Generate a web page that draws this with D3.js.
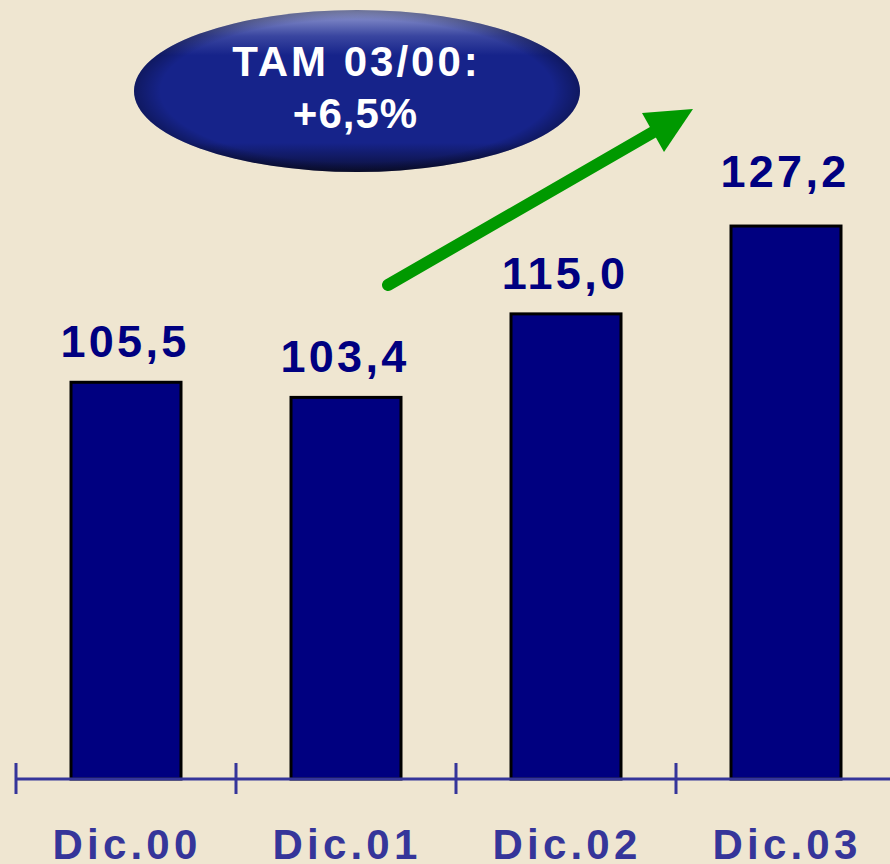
<!DOCTYPE html>
<html>
<head>
<meta charset="utf-8">
<script src="https://cdn.jsdelivr.net/npm/d3@7"></script>
<style>
  html, body { margin: 0; padding: 0; background: #efe6d1; }
  svg { display: block; }
  text { font-family: "Liberation Sans", Arial, sans-serif; font-weight: bold; }
</style>
</head>
<body>
<div id="chart"></div>
<script>
// chart data
const categories = ['Dic.00', 'Dic.01', 'Dic.02', 'Dic.03'];
const values = [105.5, 103.4, 115.0, 127.2];
const valueLabels = ['105,5', '103,4', '115,0', '127,2'];
const bubbleLines = ['TAM 03/00:', '+6,5%'];

const width = 890;
const height = 864;

const svg = d3.select('#chart')
    .append('svg')
    .attr('width', width)
    .attr('height', height);

svg.append('rect')
    .attr('width', width)
    .attr('height', height)
    .attr('fill', '#efe6d1');

// Scales
const x = d3.scaleBand()
    .domain(categories)
    .range([16, 896])
    .paddingInner(0.5)
    .paddingOuter(0.25);

const baseY = 779;
const y = d3.scaleLinear()
    .domain([50.4, 140.4])
    .range([baseY, 131]);

// Bars
svg.selectAll('.bar')
    .data(values)
    .enter()
    .append('rect')
    .attr('class', 'bar')
    .attr('x', (d, i) => x(categories[i]))
    .attr('y', (d) => y(d))
    .attr('width', x.bandwidth())
    .attr('height', (d) => baseY - y(d))
    .attr('fill', '#000080')
    .attr('stroke', '#000')
    .attr('stroke-width', 3);

// Value labels (the last one sits a little higher, as in the original)
svg.selectAll('.val')
    .data(values)
    .enter()
    .append('text')
    .attr('class', 'val')
    .attr('x', (d, i) => x(categories[i]) + x.bandwidth() / 2 - 1)
    .attr('y', (d, i) => y(d) - (i === values.length - 1 ? 39 : 25))
    .attr('text-anchor', 'middle')
    .attr('font-size', 45)
    .attr('letter-spacing', 3.3)
    .attr('fill', '#000080')
    .text((d, i) => valueLabels[i]);

// Axis: line with ticks between the categories
const axisColor = '#35359a';
svg.append('line')
    .attr('x1', 16).attr('x2', width)
    .attr('y1', baseY).attr('y2', baseY)
    .attr('stroke', axisColor)
    .attr('stroke-width', 3);

const tickXs = categories.map((c) => x(c) - x.step() * 0.25);
svg.selectAll('.tick')
    .data(tickXs)
    .enter()
    .append('line')
    .attr('x1', (d) => d).attr('x2', (d) => d)
    .attr('y1', baseY - 16).attr('y2', baseY + 15)
    .attr('stroke', axisColor)
    .attr('stroke-width', 3);

svg.selectAll('.cat')
    .data(categories)
    .enter()
    .append('text')
    .attr('class', 'cat')
    .attr('x', (d) => x(d) + x.bandwidth() / 2 + 1)
    .attr('y', 859)
    .attr('text-anchor', 'middle')
    .attr('font-size', 42)
    .attr('letter-spacing', 4.2)
    .attr('fill', axisColor)
    .text((d) => d);

// Green trend arrow
svg.append('line')
    .attr('x1', 388).attr('y1', 285)
    .attr('x2', 662).attr('y2', 127)
    .attr('stroke', '#009900')
    .attr('stroke-width', 12)
    .attr('stroke-linecap', 'round');

svg.append('path')
    .attr('d', 'M693,109 L642,113 L664,152 Z')
    .attr('fill', '#009900');

// TAM bubble
const defs = svg.append('defs');
const grad = defs.append('linearGradient')
    .attr('id', 'bubbleGrad')
    .attr('x1', 0).attr('y1', 0).attr('x2', 0).attr('y2', 1);
grad.append('stop').attr('offset', '0%').attr('stop-color', '#9aa2d6');
grad.append('stop').attr('offset', '16%').attr('stop-color', '#3a46a0');
grad.append('stop').attr('offset', '28%').attr('stop-color', '#16238a');
grad.append('stop').attr('offset', '82%').attr('stop-color', '#16238a');
grad.append('stop').attr('offset', '100%').attr('stop-color', '#0c1038');

const hgrad = defs.append('radialGradient')
    .attr('id', 'bubbleEdge')
    .attr('cx', 0.5).attr('cy', 0.5).attr('r', 0.5);
hgrad.append('stop').attr('offset', '88%').attr('stop-color', '#000').attr('stop-opacity', 0);
hgrad.append('stop').attr('offset', '100%').attr('stop-color', '#000').attr('stop-opacity', 0.3);

svg.append('ellipse')
    .attr('cx', 357).attr('cy', 91)
    .attr('rx', 223).attr('ry', 81)
    .attr('fill', 'url(#bubbleGrad)');
svg.append('ellipse')
    .attr('cx', 357).attr('cy', 91)
    .attr('rx', 223).attr('ry', 81)
    .attr('fill', 'url(#bubbleEdge)');

const bubbleSpacing = [3, 1];
svg.selectAll('.bubble')
    .data(bubbleLines)
    .enter()
    .append('text')
    .attr('class', 'bubble')
    .attr('x', (d, i) => 355 + bubbleSpacing[i] / 2)
    .attr('y', (d, i) => 76 + i * 52)
    .attr('text-anchor', 'middle')
    .attr('font-size', 42)
    .attr('letter-spacing', (d, i) => bubbleSpacing[i])
    .attr('fill', '#fff')
    .text((d) => d);
</script>
</body>
</html>
